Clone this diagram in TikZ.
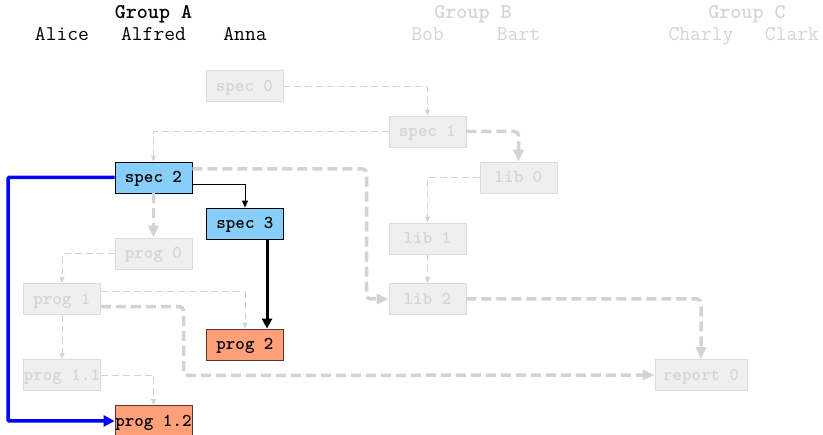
\documentclass[tikz,border=0pt]{standalone}
\usepackage{fontspec}
\usetikzlibrary{arrows.meta}

\definecolor{specfill}{HTML}{87CEFA}
\definecolor{progfill}{HTML}{FFA07A}
\definecolor{progline}{HTML}{5A3A2A}
\definecolor{fadefill}{HTML}{EFEFEF}
\definecolor{fadeline}{HTML}{DCDCDC}
\definecolor{fadetext}{HTML}{D4D4D4}
\definecolor{edgegray}{HTML}{D3D3D3}

\tikzset{
  box/.style={rectangle, inner sep=0pt, minimum width=77pt, minimum height=31pt,
    text height=11pt, text depth=0pt,
    line width=0.8pt, font=\ttfamily\bfseries\fontsize{18.1}{18}\selectfont},
  faded/.style={box, draw=fadeline, fill=fadefill, text=fadetext},
  specbox/.style={box, draw=black, fill=specfill, text=black},
  progbox/.style={box, draw=progline, fill=progfill, text=black},
  person/.style={font=\ttfamily\fontsize{21}{21}\selectfont, inner sep=0pt, anchor=base},
  group/.style={font=\ttfamily\bfseries\fontsize{21}{21}\selectfont, inner sep=0pt, anchor=base},
  thindash/.style={draw=edgegray, line width=0.9pt, dash pattern=on 7pt off 4pt,
    -{Triangle[length=6pt,width=5pt]}},
  thickdash/.style={draw=edgegray, line width=3.5pt, dash pattern=on 10pt off 5pt,
    rounded corners=4pt, -{Triangle[length=12pt,width=10pt]}},
  solidlink/.style={draw=black, line width=0.9pt, -{Triangle[length=7pt,width=6pt]}},
  boldlink/.style={draw=black, line width=3pt, -{Triangle[length=10pt,width=10pt]}},
  bluelink/.style={draw=blue, line width=3.5pt, rounded corners=1pt,
    -{Triangle[length=11pt,width=11pt]}},
}

\begin{document}
\begin{tikzpicture}[x=1pt, y=-1pt]
  \useasboundingbox (0,0) rectangle (823,435);

  % column headers
  \node[group] (ga) at (153.5,18.5) {Group A};
  \node[group, text=fadetext] (gb) at (473,18.5) {Group B};
  \node[group, text=fadetext] (gc) at (747,18.5) {Group C};
  \node[person] (alice)  at (62,41)    {Alice};
  \node[person] (alfred) at (153.5,41) {Alfred};
  \node[person] (anna)   at (245,41)   {Anna};
  \node[person, text=fadetext] (bob)    at (427.5,41) {Bob};
  \node[person, text=fadetext] (bart)   at (518.5,41) {Bart};
  \node[person, text=fadetext] (charly) at (701,41)   {Charly};
  \node[person, text=fadetext] (clark)  at (792,41)   {Clark};

  % tasks
  \node[faded]    (spec0)  at (244.5,86)   {spec 0};
  \node[faded]    (spec1)  at (427.5,131.5) {spec 1};
  \node[specbox]  (spec2)  at (153.5,177.5) {spec 2};
  \node[faded]    (lib0)   at (518.5,177.5) {lib 0};
  \node[specbox]  (spec3)  at (245,223.5)   {spec 3};
  \node[faded]    (lib1)   at (427.5,238.5) {lib 1};
  \node[faded]    (prog0)  at (153.5,253.5) {prog 0};
  \node[faded]    (prog1)  at (62,299)      {prog 1};
  \node[faded]    (lib2)   at (427.5,299)   {lib 2};
  \node[progbox]  (prog2)  at (245,344.5)   {prog 2};
  \node[faded]    (prog11) at (62,375)      {prog 1.1};
  \node[faded, minimum width=92pt] (report0) at (701,375) {report 0};
  \node[progbox]  (prog12) at (153.5,421)   {prog 1.2};

  % bend points
  \coordinate (bendA) at (366.7,299);
  \coordinate (bendB) at (183.5,375.5);
  \coordinate (bendC) at (8,421);

  % faded dependencies
  \draw[thindash] (spec0.east) -| (spec1.north);
  \draw[thindash] (spec1.west) -| (spec2.north);
  \draw[thickdash] (spec1.east) -| (lib0.north);
  \draw[thindash] (lib0.west) -| (lib1.north);
  \draw[thindash] (lib1.south) -- (lib2.north);
  \draw[thickdash] ([yshift=8.5pt]spec2.east) -| (bendA) -- (lib2.west);
  \draw[thickdash] (spec2.south) -- (prog0.north);
  \draw[thindash] (prog0.west) -| (prog1.north);
  \draw[thindash] ([yshift=7.3pt]prog1.east) -| (prog2.north);
  \draw[thickdash] ([yshift=-7.7pt]prog1.east) -| (bendB) -- (report0.west);
  \draw[thindash] (prog1.south) -- (prog11.north);
  \draw[thindash] (prog11.east) -| (prog12.north);
  \draw[thickdash] (lib2.east) -| (report0.north);

  % active dependencies
  \draw[solidlink] ([yshift=-6.5pt]spec2.east) -| (spec3.north);
  \draw[boldlink] ([xshift=22pt]spec3.south) -- ([xshift=22pt]prog2.north);
  \draw[bluelink] (spec2.west) -| (bendC) -- (prog12.west);
\end{tikzpicture}
\end{document}
